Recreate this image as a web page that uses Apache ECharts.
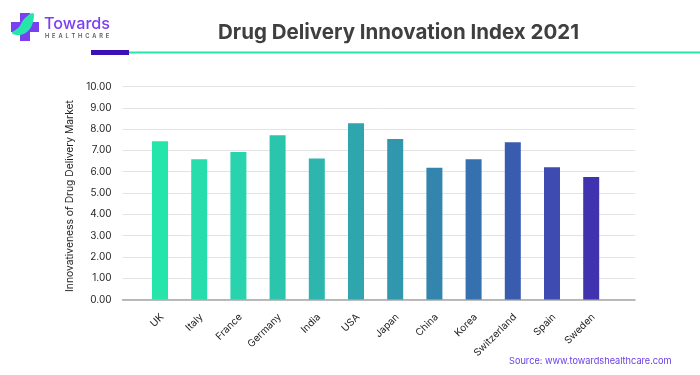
<!DOCTYPE html>
<html>
<head>
<meta charset="utf-8">
<style>
  html, body { margin: 0; padding: 0; background: #fff; }
  #chart { width: 700px; height: 375px; }
</style>
<script src="https://cdn.jsdelivr.net/npm/echarts@6/dist/echarts.min.js"></script>
</head>
<body>
<div id="chart"></div>
<script>
const countries = ['UK', 'Italy', 'France', 'Germany', 'India', 'USA', 'Japan', 'China', 'Korea', 'Switzerland', 'Spain', 'Sweden'];
const indexValues = [7.43, 6.59, 6.93, 7.71, 6.62, 8.27, 7.54, 6.18, 6.59, 7.38, 6.21, 5.75];
const barColors = ['#25E5AB', '#27DDAC', '#29D3AE', '#2BC5AE', '#2DB5AE', '#2FA6AE', '#3097AE', '#3385AE', '#3670AF', '#3A5CAF', '#3E4BB0', '#4133B0'];

const font = 'Inter, "Open Sans", sans-serif';
const chart = echarts.init(document.getElementById('chart'), null, { renderer: 'canvas' });

chart.setOption({
  animation: false,
  backgroundColor: '#fff',
  title: {
    text: 'Drug Delivery Innovation Index 2021',
    left: 393.5,
    top: 17,
    textAlign: 'center',
    textStyle: { fontFamily: font, fontSize: 20.5, fontWeight: 700, color: '#3f3f3f' }
  },
  // wide grid carries the gridlines, the narrower one holds the bars
  grid: [
    { left: 122.5, right: 65, top: 86.5, bottom: 75.5 },
    { left: 140.4, width: 470.4, top: 86.5, bottom: 75.5 }
  ],
  xAxis: [
    {
      gridIndex: 0,
      type: 'category',
      data: countries,
      axisLine: { lineStyle: { color: '#a6a6a6', width: 1.5 } },
      axisTick: { show: false },
      axisLabel: { show: false }
    },
    {
      gridIndex: 1,
      type: 'category',
      data: countries,
      axisLine: { show: false },
      axisTick: { show: false },
      axisLabel: {
        interval: 0,
        rotate: 45,
        margin: 18,
        padding: [0, -3, 0, 0],
        fontFamily: font,
        fontSize: 10,
        color: '#1f1f1f'
      }
    }
  ],
  yAxis: [
    {
      gridIndex: 0,
      type: 'value',
      min: 0,
      max: 10,
      interval: 1,
      name: 'Innovativeness of Drug Delivery Market',
      nameLocation: 'middle',
      nameGap: 44,
      nameTextStyle: { fontFamily: font, fontSize: 10.3, color: '#1f1f1f', padding: [0, 6, 0, 0] },
      axisLine: { show: false },
      axisTick: { show: false },
      axisLabel: {
        margin: 11,
        fontFamily: font,
        fontSize: 10,
        color: '#1f1f1f',
        formatter: (v) => v.toFixed(2)
      },
      splitLine: { lineStyle: { color: '#e3e3e3', width: 1 } }
    },
    {
      gridIndex: 1,
      type: 'value',
      min: 0,
      max: 10,
      interval: 1,
      show: false
    }
  ],
  series: [
    {
      name: 'Drug Delivery Innovation Index',
      type: 'bar',
      xAxisIndex: 1,
      yAxisIndex: 1,
      barWidth: 16,
      data: indexValues.map((v, i) => ({ value: v, itemStyle: { color: barColors[i] } }))
    }
  ],
  graphic: [
    // logo cross
    { type: 'rect', shape: { x: 20, y: 13, width: 10, height: 28 }, style: { fill: '#7B3FF2' } },
    { type: 'rect', shape: { x: 11, y: 22, width: 28, height: 10 }, style: { fill: '#7B3FF2' } },
    // logo leaf
    {
      type: 'polygon',
      shape: { points: [[33, 13], [24, 19], [19, 27], [12, 33], [20, 35], [28, 31], [33, 22]], smooth: 0.4 },
      style: { fill: '#25E5AB' }
    },
    {
      type: 'text',
      x: 44,
      y: 16,
      style: { text: 'Towards', fontFamily: font, fontSize: 16.2, fontWeight: 500, fill: '#7B3FF2' }
    },
    {
      type: 'text',
      x: 45,
      y: 33,
      style: { text: 'H  E  A  L  T  H  C  A  R  E', fontFamily: font, fontSize: 5.7, fontWeight: 600, fill: '#555555' }
    },
    // header rule
    { type: 'rect', shape: { x: 129, y: 51.5, width: 571, height: 2 }, style: { fill: '#25E5AB' } },
    { type: 'rect', shape: { x: 91, y: 50, width: 38, height: 5 }, style: { fill: '#3B10B5' } },
    {
      type: 'text',
      x: 509,
      y: 357,
      style: { text: 'Source: www.towardshealthcare.com', fontFamily: font, fontSize: 9.2, fill: '#6A3DE8' }
    }
  ]
});
</script>
</body>
</html>
